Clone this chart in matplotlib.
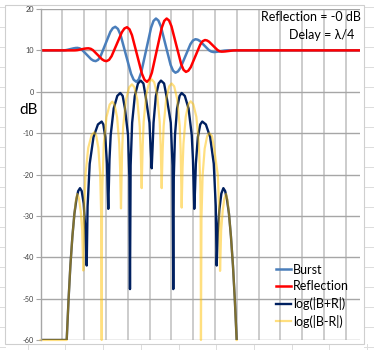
import matplotlib
matplotlib.use("Agg")
import matplotlib.pyplot as plt
from matplotlib.lines import Line2D
from matplotlib.patches import Rectangle
import numpy as np

# time axis in samples (gridline every 10 samples), levels in dB
X_MAX = 146.5

burst_x = [0.0, 10.23, 11.06, 11.88, 13.56, 15.23, 16.05, 16.88, 17.92, 18.97,
           21.06, 23.14, 24.19, 25.23, 26.35, 27.48, 29.72, 31.97, 33.09, 34.22,
           35.42, 36.63, 39.04, 41.45, 42.65, 43.85, 44.98, 46.10, 48.37, 50.64,
           51.76, 52.89, 54.01, 55.14, 57.36, 59.59, 60.71, 61.83, 62.98, 64.13,
           66.42, 68.72, 69.86, 71.01, 72.04, 73.07, 75.14, 77.20, 78.24, 79.27,
           80.10, 80.92, 82.59, 84.27, 85.09, 85.92, 146.5]
burst_db = [10.0, 10.0, 10.02, 10.09, 10.3, 10.51, 10.58, 10.6, 10.48, 10.13,
            9.0, 7.87, 7.52, 7.4, 7.72, 8.61, 11.55, 14.49, 15.38, 15.7,
            15.19, 13.76, 9.05, 4.34, 2.91, 2.4, 2.98, 4.63, 10.05, 15.47,
            17.12, 17.7, 17.2, 15.79, 11.15, 6.51, 5.1, 4.6, 4.91, 5.78,
            8.65, 11.52, 12.39, 12.7, 12.58, 12.25, 11.15, 10.05, 9.72, 9.6,
            9.62, 9.66, 9.8, 9.94, 9.98, 10.0, 10.0]

refl_x = [0.0, 15.28, 16.11, 16.93, 18.60, 20.28, 21.10, 21.93, 22.96, 23.99,
          26.06, 28.12, 29.15, 30.18, 31.36, 32.52, 34.89, 37.25, 38.41, 39.59,
          40.74, 41.88, 44.17, 46.47, 47.61, 48.76, 49.89, 51.01, 53.28, 55.55,
          56.67, 57.80, 58.91, 60.00, 62.22, 64.45, 65.54, 66.65, 67.74, 68.83,
          71.01, 73.19, 74.28, 75.37, 76.32, 77.25, 79.15, 81.06, 81.99, 82.94,
          83.77, 84.59, 86.26, 87.94, 88.76, 89.59, 146.5]
refl_db = [10.0, 10.0, 10.02, 10.07, 10.25, 10.43, 10.48, 10.5, 10.38, 10.05,
           8.95, 7.85, 7.52, 7.4, 7.71, 8.6, 11.5, 14.4, 15.29, 15.6,
           15.1, 13.67, 9.0, 4.33, 2.9, 2.4, 2.98, 4.63, 10.05, 15.47,
           17.12, 17.7, 17.21, 15.82, 11.25, 6.68, 5.29, 4.8, 5.09, 5.92,
           8.65, 11.38, 12.21, 12.5, 12.39, 12.09, 11.1, 10.11, 9.81, 9.7,
           9.71, 9.74, 9.85, 9.96, 9.99, 10.0, 10.0]

sum_x = [0.0, 11.93, 12.80, 13.62, 14.54, 15.46, 16.38, 17.20, 18.03, 18.81,
         19.72, 20.50, 21.10, 21.51, 22.48, 24.22, 26.26, 27.98, 28.74, 29.63,
         30.41, 30.71, 31.01, 31.56, 32.11, 33.49, 35.14, 36.51, 37.61, 38.66,
         40.07, 40.69, 40.96, 41.26, 41.95, 43.17, 44.63, 45.87, 47.13, 48.14,
         49.91, 50.41, 50.92, 51.34, 51.77, 52.84, 54.13, 55.18, 56.61, 57.71,
         59.68, 60.50, 60.83, 61.06, 61.61, 62.57, 63.72, 64.68, 66.12, 67.84,
         69.31, 69.86, 70.46, 70.83, 71.19, 72.11, 73.21, 74.13, 75.78, 77.75,
         79.40, 80.32, 80.73, 81.24, 81.97, 82.89, 83.81, 84.63, 85.46, 86.38,
         87.29, 88.21, 89.04, 89.91]
sum_db = [-60.0, -60.0, -50.0, -42.0, -35.0, -29.5, -26.0, -24.0, -23.3, -24.0,
          -27.0, -33.5, -42.0, -27.7, -17.4, -10.95, -7.9, -7.2, -7.9, -10.95,
          -17.4, -23.3, -28.3, -16.4, -10.5, -4.05, -1.0, -0.3, -1.0, -4.05,
          -10.5, -20.8, -47.7, -17.8, -7.5, -1.05, 2.0, 2.7, 2.0, -1.05,
          -7.5, -13.4, -18.5, -13.4, -7.5, -1.05, 2.0, 2.7, 2.0, -1.05,
          -7.5, -17.8, -47.7, -20.8, -10.5, -4.05, -1.0, -0.3, -1.0, -4.05,
          -10.5, -16.4, -28.3, -23.3, -17.4, -10.95, -7.9, -7.2, -7.9, -10.95,
          -17.4, -27.7, -42.0, -34.0, -28.5, -24.6, -23.3, -24.0, -26.0, -29.5,
          -35.0, -42.0, -50.0, -60.0]

diff_x = [0.0, 11.93, 12.80, 13.62, 14.54, 15.46, 16.15, 16.79, 17.57, 18.35,
          19.04, 19.54, 19.84, 20.55, 21.81, 23.33, 24.59, 25.44, 26.45, 27.30,
          27.78, 27.98, 28.12, 28.28, 28.95, 30.17, 31.63, 32.84, 33.85, 35.05,
          36.04, 36.44, 36.84, 37.34, 37.84, 39.11, 40.62, 41.88, 42.98, 44.31,
          45.44, 45.89, 46.33, 46.79, 47.25, 48.39, 49.77, 50.92, 52.07, 53.44,
          54.59, 55.05, 55.51, 55.96, 56.42, 57.57, 58.95, 60.09, 61.24, 62.61,
          63.76, 64.22, 64.68, 65.09, 65.51, 66.54, 67.78, 68.81, 70.00, 71.42,
          72.57, 73.26, 73.39, 73.53, 73.76, 74.29, 75.23, 76.38, 77.34, 78.58,
          79.59, 81.28, 82.00, 82.29, 82.80, 83.49, 84.27, 85.05, 85.69, 86.38,
          87.29, 88.21, 89.04, 89.91]
diff_db = [-60.0, -60.0, -50.0, -42.0, -35.0, -29.5, -26.3, -24.7, -25.8, -28.8,
           -33.5, -43.2, -30.3, -20.0, -13.55, -10.5, -9.8, -10.5, -13.55, -20.0,
           -30.3, -60.0, -28.9, -22.9, -12.6, -6.15, -3.1, -2.4, -3.1, -6.15,
           -12.6, -18.5, -28.2, -14.3, -8.4, -1.95, 1.1, 1.8, 1.1, -1.95,
           -8.4, -14.3, -23.3, -13.1, -7.2, -0.75, 2.3, 3.0, 2.3, -0.75,
           -7.2, -13.1, -23.3, -14.1, -8.2, -1.75, 1.3, 2.0, 1.3, -1.75,
           -8.2, -14.1, -28.0, -18.4, -12.5, -6.05, -3.0, -2.3, -3.0, -6.05,
           -12.5, -22.8, -28.8, -60.0, -30.5, -20.2, -13.75, -10.7, -10.0, -10.7,
           -13.75, -20.2, -30.5, -43.3, -33.5, -28.8, -25.8, -24.7, -26.3, -29.5,
           -35.0, -42.0, -50.0, -60.0]

y_ticks = [-60, -50, -40, -30, -20, -10, 0, 10, 20]

W, H = 374, 350
FONT = ["Lato", "DejaVu Sans"]
SHEET_GREY = "#dcdcdc"

fig = plt.figure(figsize=(W / 100, H / 100), dpi=100)
fig.patch.set_facecolor("white")

# worksheet cell borders showing around the embedded chart
for row_y in np.arange(7.3, H, 20):
    for x0, x1 in [(0, 5), (364, W)]:
        fig.add_artist(Line2D([x0 / W, x1 / W], [1 - row_y / H] * 2,
                              transform=fig.transFigure, color=SHEET_GREY,
                              linewidth=0.7, zorder=-3))
for col_x in np.arange(27.7, W, 37.7):
    fig.add_artist(Line2D([col_x / W] * 2, [0, 1 - 344 / H],
                          transform=fig.transFigure, color=SHEET_GREY,
                          linewidth=0.7, zorder=-3))

# chart area frame
fig.add_artist(Rectangle((5 / W, 1 - 344 / H), 359 / W, 339 / H,
                         transform=fig.transFigure, facecolor="white",
                         edgecolor="#cfcfcf", linewidth=0.8, zorder=-2))

ax = fig.add_axes([40.7 / W, 1 - 340 / H, 319.3 / W, 331 / H])
ax.patch.set_alpha(0)
ax.set_xlim(0, X_MAX)
ax.set_ylim(-60, 20)

ax.set_yticks(y_ticks)
ax.set_yticklabels([str(t) for t in y_ticks], fontsize=5.3, family=FONT, color="#404040")
ax.set_xticks(np.arange(0, X_MAX, 10))
ax.tick_params(axis="x", length=0, labelbottom=False)
ax.tick_params(axis="y", length=3.6, width=0.8, color="#a6a6a6", pad=1.2)
ax.grid(axis="y", color="#a6a6a6", linewidth=1.0)
ax.grid(axis="x", color="#c4c4c4", linewidth=1.2)
ax.set_axisbelow(True)
for side in ["top", "right", "bottom"]:
    ax.spines[side].set_visible(False)
ax.spines["left"].set_color("#a6a6a6")
ax.spines["left"].set_linewidth(1.0)

ax.plot(burst_x, burst_db, color="#4a7ebb", linewidth=1.8, label="Burst")
ax.plot(refl_x, refl_db, color="#ff0000", linewidth=1.8, label="Reflection")
ax.plot(sum_x, sum_db, color="#002060", linewidth=1.7, label="log(|B+R|)")
ax.plot(diff_x, diff_db, color="#ffc000", alpha=0.5, linewidth=1.6,
        label="log(|B-R|)", clip_on=False)

leg = ax.legend(loc="upper left", bbox_to_anchor=(275.7 / W, 1 - 263.5 / H),
                bbox_transform=fig.transFigure, frameon=False, borderaxespad=0,
                borderpad=0, handlelength=1.25, handletextpad=0.12,
                labelspacing=0.38, prop={"family": FONT, "size": 9})

fig.text(360.7 / W, 1 - 17.3 / H, "Reflection = -0 dB", ha="right", va="center",
         fontsize=9, family=FONT, color="black")
fig.text(354 / W, 1 - 35 / H, "Delay = λ/4", ha="right", va="center",
         fontsize=9, family=FONT, color="black")
fig.text(28.5 / W, 1 - 110 / H, "dB", ha="center", va="center",
         fontsize=11, family=FONT, color="black")

fig.savefig("out.png", dpi=100)
